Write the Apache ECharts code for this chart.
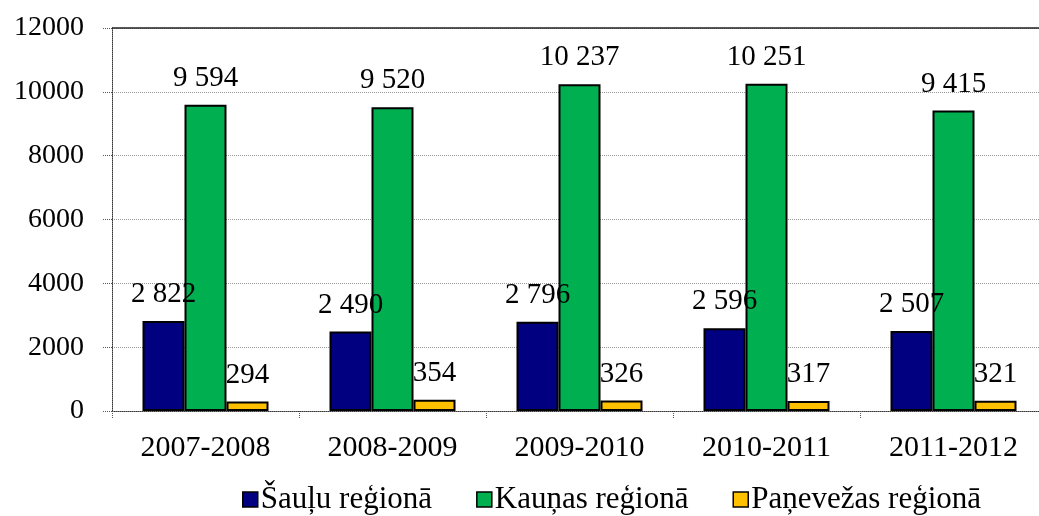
<!DOCTYPE html>
<html>
<head>
<meta charset="utf-8">
<script src="https://cdn.jsdelivr.net/npm/echarts@6/dist/echarts.min.js"></script>
<style>
  html, body { margin: 0; padding: 0; background: #fff; }
  #chart { width: 1039px; height: 516px; }
</style>
</head>
<body>
<div id="chart"></div>
<script>
const years = ['2007-2008', '2008-2009', '2009-2010', '2010-2011', '2011-2012'];
const sauluValues = [2822, 2490, 2796, 2596, 2507];
const kaunasValues = [9594, 9520, 10237, 10251, 9415];
const panevezasValues = [294, 354, 326, 317, 321];
const seriesNames = ['Šauļu reģionā', 'Kauņas reģionā', 'Paņevežas reģionā'];
const yMax = 12000;

const FONT = 'Liberation Serif';
const colors = ['#000080', '#00B050', '#FFC000'];

// 9594 -> "9 594"
const fmt = (v) => String(v).replace(/\B(?=(\d{3})+(?!\d))/g, ' ');

const makeSeries = (name, values, color) => ({
  name: name,
  type: 'bar',
  data: values,
  barWidth: 42,
  barGap: '0%',
  clip: false,
  itemStyle: {
    color: color,
    borderColor: '#000',
    borderWidth: 2,
  },
  label: {
    show: true,
    position: 'top',
    distance: 12,
    color: '#000',
    fontFamily: FONT,
    fontSize: 29,
    formatter: (p) => fmt(p.value),
  },
});

const series = [
  makeSeries(seriesNames[0], sauluValues, colors[0]),
  makeSeries(seriesNames[1], kaunasValues, colors[1]),
  makeSeries(seriesNames[2], panevezasValues, colors[2]),
];
// solid top border of the plot area
series[0].markLine = {
  silent: true,
  symbol: 'none',
  label: { show: false },
  lineStyle: { color: '#222', width: 1.5, type: 'solid' },
  data: [{ yAxis: yMax }],
};

const chart = echarts.init(document.getElementById('chart'));

chart.setOption({
  animation: false,
  color: colors,
  grid: {
    left: 112,
    top: 28,
    width: 935,
    height: 383,
    outerBoundsMode: 'none',
  },
  legend: {
    left: 237,
    top: 479,
    itemWidth: 15,
    itemHeight: 15,
    itemGap: 44,
    icon: 'rect',
    itemStyle: { borderColor: '#000', borderWidth: 1.5 },
    textStyle: { fontFamily: FONT, fontSize: 31, color: '#000', padding: [0, 0, 0, -2] },
    data: seriesNames,
  },
  xAxis: {
    type: 'category',
    data: years,
    axisLine: { lineStyle: { color: '#333', type: 'dotted', width: 1 } },
    axisTick: { show: true, length: 8, lineStyle: { color: '#555', type: 'dotted' } },
    axisLabel: { fontFamily: FONT, fontSize: 30, color: '#000', margin: 22 },
  },
  yAxis: {
    type: 'value',
    min: 0,
    max: yMax,
    interval: 2000,
    axisLine: { show: true, lineStyle: { color: '#333', type: 'dotted', width: 1 } },
    axisTick: { show: true, length: 9, lineStyle: { color: '#555', type: 'dotted' } },
    axisLabel: {
      fontFamily: FONT,
      fontSize: 28,
      color: '#000',
      margin: 28,
      formatter: (v) => String(v),
    },
    splitLine: {
      show: true,
      showMinLine: true,
      showMaxLine: true,
      lineStyle: { color: '#999', type: 'dotted', width: 1 },
    },
  },
  series: series,
});
</script>
</body>
</html>
